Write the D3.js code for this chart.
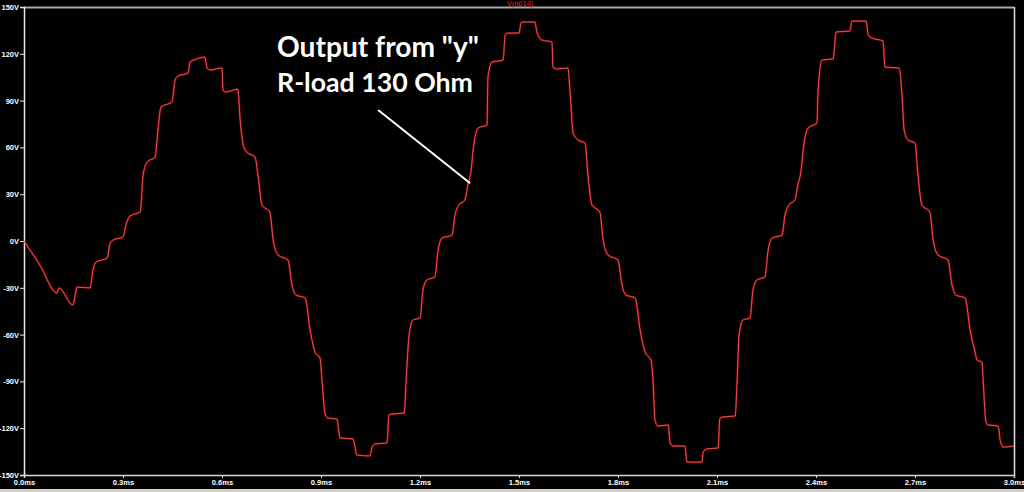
<!DOCTYPE html>
<html><head><meta charset="utf-8">
<script src="https://cdn.jsdelivr.net/npm/d3@7"></script>
<style>html,body{margin:0;padding:0;background:#000;overflow:hidden}svg{display:block}</style>
</head><body>
<svg id="c" width="1024" height="492"></svg>
<script>
const traceName = "V(n014)";
const xTicks = [0,0.3,0.6,0.9,1.2,1.5,1.8,2.1,2.4,2.7,3.0];
const xTickLabels = ["0.0ms","0.3ms","0.6ms","0.9ms","1.2ms","1.5ms","1.8ms","2.1ms","2.4ms","2.7ms","3.0ms"];
const yTicks = [150,120,90,60,30,0,-30,-60,-90,-120,-150];
const yTickLabels = ["150V","120V","90V","60V","30V","0V","-30V","-60V","-90V","-120V","-150V"];
const annotationLines = ["Output from \"y\"", "R-load 130 Ohm"];
const arrowFrom = [1.073, 84];   // ms, V
const arrowTo = [1.352, 37];

// time (ms) and voltage (V)
const timeMs = [
0,0.048,0.100,0.106,0.148,0.161,0.200,0.209,0.218,0.252,0.261,0.270,0.300,0.309,0.321,0.352,0.361,0.373,0.397,0.406,0.415,0.448,0.458,0.467,0.497,0.503,0.515,0.548,0.555,0.564,0.600,0.603,0.612,0.648,0.655,0.667,0.679,0.700,
0.709,0.721,0.745,0.755,0.770,0.800,0.812,0.824,0.852,0.867,0.882,0.897,0.903,
0.912,0.921,0.948,0.958,0.997,1.009,1.048,1.055,1.064,1.100,1.106,1.115,1.152,1.158,
1.167,1.179,1.200,1.209,1.221,1.245,1.255,1.267,1.297,1.306,1.318,1.336,1.345,1.355,1.361,1.376,1.403,
1.406,1.418,1.452,1.458,1.467,1.500,1.506,1.512,1.548,1.555,1.570,1.600,1.603,1.615,1.648,1.655,1.664,1.679,1.700,
1.709,1.721,1.745,1.755,1.770,1.800,1.812,1.824,1.852,1.867,1.882,1.900,1.906,
1.912,1.921,1.952,1.958,1.967,2.003,2.009,2.055,2.058,2.070,2.103,2.109,2.118,2.155,2.161,
2.167,2.179,2.200,2.209,2.221,2.245,2.255,2.267,2.297,2.306,2.318,2.336,2.345,2.355,2.361,2.376,2.403,
2.406,2.418,2.452,2.461,2.503,2.509,2.552,2.558,2.570,2.603,2.609,2.652,2.661,2.667,2.679,2.700,
2.709,2.721,2.745,2.755,2.770,2.800,2.812,2.824,2.852,2.867,2.882,2.888,2.903,2.906,2.915,2.921,2.952,2.958,2.967,3.000];
const voltV = [
0,-15.4,-33.3,-30.1,-41.0,-29.5,-30.1,-18.6,-13.5,-10.9,-1.3,0.6,2.6,10.3,16.0,18.6,42.3,50.6,53.8,71.2,85.9,89.1,103.2,105.8,107.7,114.7,116.0,117.9,110.9,109.6,110.9,96.8,95.5,97.4,77.6,59.6,56.4,53.8,
42.3,23.1,18.6,0.6,-9.0,-12.2,-28.2,-34.6,-36.5,-57.1,-71.2,-75.0,-89.1,
-110.3,-113.5,-114.1,-126.3,-126.9,-137.2,-137.8,-132.1,-130.1,-129.5,-111.5,-110.9,-110.3,-89.1,
-60.3,-50.6,-49.4,-31.4,-25.0,-23.1,-5.8,1.9,3.8,16.7,23.1,26.3,35.9,45.5,58.3,72.4,74.4,
105.1,114.7,116.0,132.1,133.3,133.3,139.7,140.4,140.4,133.3,128.8,127.6,111.5,110.3,110.9,94.9,69.2,64.7,62.8,
42.3,23.1,18.6,0.6,-9.0,-12.2,-28.2,-34.6,-36.5,-57.1,-71.2,-76.3,-89.1,
-114.7,-118.6,-117.9,-129.5,-131.4,-131.4,-141.7,-141.7,-135.3,-133.3,-132.7,-113.5,-112.8,-112.2,-89.1,
-60.3,-50.6,-49.4,-31.4,-25.0,-23.1,-5.8,1.9,3.8,16.7,23.1,26.3,35.9,45.5,58.3,72.4,75.6,
94.9,116.0,116.7,134.0,134.6,141.0,141.0,132.1,130.1,128.2,111.5,110.9,92.3,71.2,64.7,62.8,
42.3,23.1,18.6,0.6,-9.0,-12.2,-28.2,-34.6,-36.5,-57.1,-71.2,-76.3,-77.6,-87.2,-116.0,-117.9,-118.6,-127.6,-132.1,-131.4];

const svg = d3.select("#c");
const W = 1024, H = 492;
svg.append("rect").attr("width",W).attr("height",H).attr("fill","#000");
svg.append("rect").attr("x",0).attr("y",489).attr("width",W).attr("height",3).attr("fill","#d4d0c8");

const x = d3.scaleLinear().domain([0,3]).range([24,1014]);
const y = d3.scaleLinear().domain([-150,150]).range([475,7]);

const tickFont = "Liberation Sans, Arial, sans-serif";

// frame
svg.append("line").attr("x1",x(0)).attr("x2",x(3)).attr("y1",y(150)+0.5).attr("y2",y(150)+0.5).attr("stroke","#a8a8a8").attr("stroke-width",2);
svg.append("line").attr("x1",x(3)+0.5).attr("x2",x(3)+0.5).attr("y1",y(150)).attr("y2",y(-150)).attr("stroke","#e0e0e0").attr("stroke-width",1.5);

// y axis
const ya = svg.append("g").attr("transform",`translate(${x(0)},0)`)
  .call(d3.axisLeft(y).tickValues(yTicks).tickSize(4).tickPadding(1).tickFormat((d,i)=>yTickLabels[i]));
ya.select(".domain").attr("stroke","#e8e8e8").attr("stroke-width",1.5);
ya.selectAll(".tick line").attr("stroke","#e8e8e8");
ya.selectAll(".tick text").attr("fill","#fff").attr("font-family",tickFont).attr("font-weight","bold").attr("font-size","7.5px");

// x axis
const xa = svg.append("g").attr("transform",`translate(0,${y(-150)})`)
  .call(d3.axisBottom(x).tickValues(xTicks).tickSize(3).tickPadding(2).tickFormat((d,i)=>xTickLabels[i]));
xa.select(".domain").attr("stroke","#d8d8d8").attr("stroke-width",1.5);
xa.selectAll(".tick line").attr("stroke","#d8d8d8");
xa.selectAll(".tick text").attr("fill","#fff").attr("font-family",tickFont).attr("font-weight","bold").attr("font-size","7.5px");

// trace name
svg.append("text").attr("x",520).attr("y",6).attr("text-anchor","middle")
  .attr("fill","#ff1a1a").attr("font-family",tickFont).attr("font-size","7.5px").text(traceName);

// trace
const pts = timeMs.map((t,i)=>[t, voltV[i]]);
const line = d3.line().x(d=>x(d[0])).y(d=>y(d[1])).curve(d3.curveMonotoneX);
svg.append("path").datum(pts).attr("d",line).attr("fill","none")
  .attr("stroke","#ff0000").attr("stroke-opacity",0.45).attr("stroke-width",2.2);
svg.append("path").datum(pts).attr("d",line).attr("fill","none")
  .attr("stroke","#ff5a5a").attr("stroke-width",0.9);

// annotation
const ann = svg.append("g");
const targetW = [202, 196];
const baseY = [57, 92];
annotationLines.forEach((s,i)=>{
  const t = ann.append("text").attr("x",277).attr("y",baseY[i]).attr("fill","#fff")
    .attr("font-family","Lato, 'Open Sans', sans-serif").attr("font-weight","bold").attr("font-size","26px").text(s);
  const w = t.node().getComputedTextLength();
  t.attr("font-size", (26*targetW[i]/w).toFixed(2)+"px");
});
svg.append("line").attr("x1",x(arrowFrom[0])).attr("y1",y(arrowFrom[1]))
  .attr("x2",x(arrowTo[0])).attr("y2",y(arrowTo[1])).attr("stroke","#fff").attr("stroke-width",2);
</script>
</body></html>
